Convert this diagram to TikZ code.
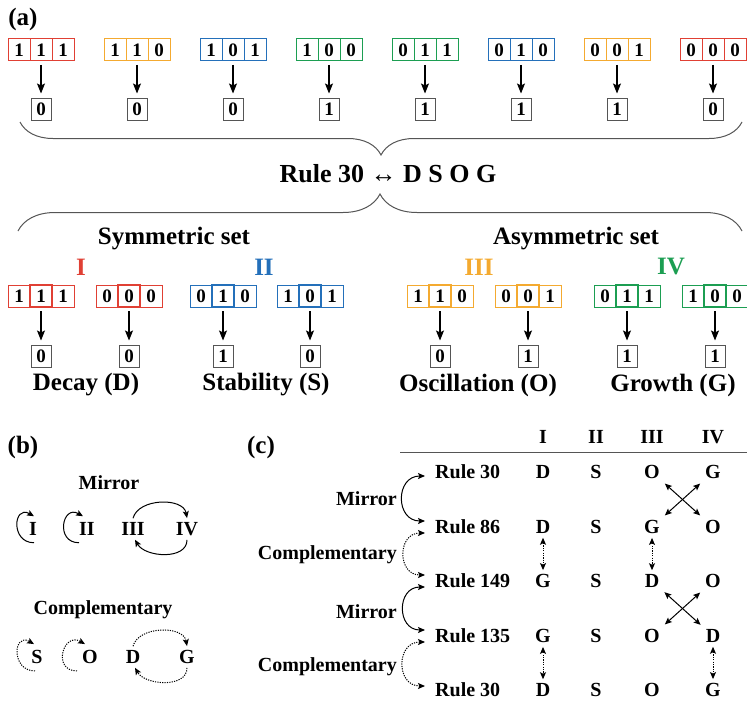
\documentclass[tikz,border=0pt]{standalone}
\usepackage{fontspec}
\setmainfont{Liberation Serif}
\usetikzlibrary{arrows.meta,decorations.pathreplacing}
\definecolor{cred}{RGB}{224,64,52}
\definecolor{corange}{RGB}{244,170,48}
\definecolor{cblue}{RGB}{36,112,186}
\definecolor{cgreen}{RGB}{28,158,82}
\definecolor{cgrey}{RGB}{85,85,85}

\begin{document}
\begin{tikzpicture}[x=1pt,y=-1pt]
\tikzset{cell/.style={draw, line width=1pt, minimum width=22pt, minimum height=22pt, inner sep=0pt, outer sep=0pt, font=\bfseries\fontsize{19}{19}\selectfont},
  midcell/.style={cell, line width=2.6pt},
  outbox/.style={draw=cgrey, line width=1pt, minimum width=20pt, minimum height=22pt, inner sep=0pt, font=\bfseries\fontsize{19}{19}\selectfont},
  lab/.style={font=\bfseries\fontsize{25}{27}\selectfont},
  small/.style={font=\bfseries\fontsize{20}{22}\selectfont, inner sep=2pt},
  arr/.style={-{Stealth[length=10pt,width=8pt,inset=2pt]}, line width=1.1pt},
  sarr/.style={-{Stealth[length=7pt,width=6pt,inset=1.5pt]}, line width=1pt},
  darr/.style={{Stealth[length=7pt,width=6pt,inset=1.5pt]}-{Stealth[length=7pt,width=6pt,inset=1.5pt]}, line width=1pt},
  dots/.style={dash pattern=on 1.2pt off 1.2pt},
  curly/.style={draw=cgrey, line width=1pt, decorate}}
\useasboundingbox (0,0) rectangle (747,701);

% (a)
\node[lab] (pa) at (23,19) {(a)};
\foreach \x/\c/\p/\q/\r/\o [count=\i] in {41/cred/1/1/1/0, 137/corange/1/1/0/0, 233/cblue/1/0/1/0, 329/cgreen/1/0/0/1, 425/cgreen/0/1/1/1, 521/cblue/0/1/0/1, 617/corange/0/0/1/1, 713/cred/0/0/0/0}{
  \node[cell, draw=\c] (ta\i) at (\x-22,50) {\p};
  \node[cell, draw=\c] (tb\i) at (\x,50) {\q};
  \node[cell, draw=\c] (tc\i) at (\x+22,50) {\r};
  \node[outbox] (to\i) at (\x,109) {\o};
  \draw[arr, shorten <=4pt, shorten >=4pt] (tb\i) -- (to\i);
}
\draw[curly, decoration={brace, amplitude=33pt}] (742,122) -- (20,122);
\node[font=\bfseries\fontsize{26}{28}\selectfont] (rule) at (388,174) {Rule 30 ↔ D S O G};
\draw[curly, decoration={brace, amplitude=37pt}] (18,231) -- (742,231);

\node[lab] (sym) at (174,239) {Symmetric set};
\node[lab] (asym) at (576,239) {Asymmetric set};
\node[lab, text=cred] (nI) at (81,267) {I};
\node[lab, text=cblue] (nII) at (264,267) {II};
\node[lab, text=corange] (nIII) at (479,267) {III};
\node[lab, text=cgreen] (nIV) at (671,267) {IV};

\foreach \x/\c/\p/\q/\r/\o [count=\i] in {41/cred/1/1/1/0, 129/cred/0/0/0/0, 223/cblue/0/1/0/1, 310/cblue/1/0/1/0, 440/corange/1/1/0/0, 528/corange/0/0/1/1, 627/cgreen/0/1/1/1, 715/cgreen/1/0/0/1}{
  \node[cell, draw=\c] (sa\i) at (\x-22,296) {\p};
  \node[cell, draw=\c] (sc\i) at (\x+22,296) {\r};
  \node[midcell, draw=\c] (sb\i) at (\x,296) {\q};
  \node[outbox] (so\i) at (\x,356) {\o};
  \draw[arr, shorten <=4pt, shorten >=4pt] (sb\i) -- (so\i);
}
\node[lab] (decay) at (86,385) {Decay (D)};
\node[lab] (stab) at (266,385) {Stability (S)};
\node[lab] (osc) at (478,385) {Oscillation (O)};
\node[lab] (grow) at (673,385) {Growth (G)};

% (b)
\node[lab] (pb) at (23,447) {(b)};
\node[small] (bmir) at (109,483) {Mirror};
\node[small] (bI) at (33,529) {I};
\node[small] (bII) at (87,529) {II};
\node[small] (bIII) at (133,529) {III};
\node[small] (bIV) at (187,529) {IV};
\draw[sarr] ([xshift=1pt,yshift=-5pt]bI.south) to[out=180,in=150,looseness=2.3] ([xshift=1pt,yshift=4pt]bI.north);
\draw[sarr] ([xshift=-8pt,yshift=-5pt]bII.south) to[out=180,in=150,looseness=2.3] ([xshift=-4pt,yshift=4pt]bII.north);
\draw[sarr] ([yshift=2pt]bIII.north) to[out=75,in=100] ([yshift=2pt]bIV.north);
\draw[sarr] ([yshift=-2pt]bIV.south) to[out=-90,in=-60] ([xshift=2pt,yshift=-2pt]bIII.south);

\node[small] (bcomp) at (103,610) {Complementary};
\node[small] (bS) at (37,657) {S};
\node[small] (bO) at (90,657) {O};
\node[small] (bD) at (133,657) {D};
\node[small] (bG) at (187,657) {G};
\draw[sarr, dots] ([xshift=-2pt,yshift=-5pt]bS.south) to[out=180,in=150,looseness=2.3] ([xshift=-3pt,yshift=4pt]bS.north);
\draw[sarr, dots] ([xshift=-13pt,yshift=-5pt]bO.south) to[out=180,in=150,looseness=2.3] ([xshift=-5pt,yshift=4pt]bO.north);
\draw[sarr, dots] ([yshift=2pt]bD.north) to[out=75,in=100] ([yshift=2pt]bG.north);
\draw[sarr, dots] ([yshift=-2pt]bG.south) to[out=-90,in=-60] ([xshift=2pt,yshift=-2pt]bD.south);

% (c)
\node[lab] (pc) at (261,447) {(c)};
\node[small] (hI) at (543,437) {I};
\node[small] (hII) at (596,437) {II};
\node[small] (hIII) at (652,437) {III};
\node[small] (hIV) at (713,437) {IV};
\draw[line width=1pt, cgrey] (400,452) -- (747,452);
\foreach \y/\n/\a/\b/\c/\d [count=\i] in {472/30/D/S/O/G, 527/86/D/S/G/O, 581/149/G/S/D/O, 636/135/G/S/O/D, 690/30/D/S/O/G}{
  \node[small, anchor=west] (r\i) at (433,\y) {Rule \n};
  \node[small] (d\i1) at (543,\y) {\a};
  \node[small] (d\i2) at (596,\y) {\b};
  \node[small] (d\i3) at (652,\y) {\c};
  \node[small] (d\i4) at (713,\y) {\d};
}
\node[small, anchor=east] (cm1) at (399,499) {Mirror};
\node[small, anchor=east] (cc1) at (399,555) {Complementary};
\node[small, anchor=east] (cm2) at (399,612) {Mirror};
\node[small, anchor=east] (cc2) at (399,667) {Complementary};
\draw[darr] ([xshift=-8pt,yshift=-4pt]r1.west) to[out=180,in=180,looseness=1.7] ([xshift=-8pt,yshift=6pt]r2.west);
\draw[darr, dots] ([xshift=-8pt,yshift=-6pt]r2.west) to[out=180,in=180,looseness=1.7] ([xshift=-8pt,yshift=6pt]r3.west);
\draw[darr] ([xshift=-8pt,yshift=-6pt]r3.west) to[out=180,in=180,looseness=1.7] ([xshift=-8pt,yshift=6pt]r4.west);
\draw[darr, dots] ([xshift=-8pt,yshift=-6pt]r4.west) to[out=180,in=180,looseness=1.7] ([xshift=-8pt,yshift=4pt]r5.west);
\draw[darr, shorten <=4pt, shorten >=4pt] (d13) -- (d24);
\draw[darr, shorten <=4pt, shorten >=4pt] (d14) -- (d23);
\draw[darr, shorten <=4pt, shorten >=4pt] (d33) -- (d44);
\draw[darr, shorten <=4pt, shorten >=4pt] (d34) -- (d43);
\draw[darr, dots, shorten <=2pt, shorten >=2pt] (d21) -- (d31);
\draw[darr, dots, shorten <=2pt, shorten >=2pt] (d23) -- (d33);
\draw[darr, dots, shorten <=2pt, shorten >=2pt] (d41) -- (d51);
\draw[darr, dots, shorten <=2pt, shorten >=2pt] (d44) -- (d54);
\end{tikzpicture}
\end{document}
